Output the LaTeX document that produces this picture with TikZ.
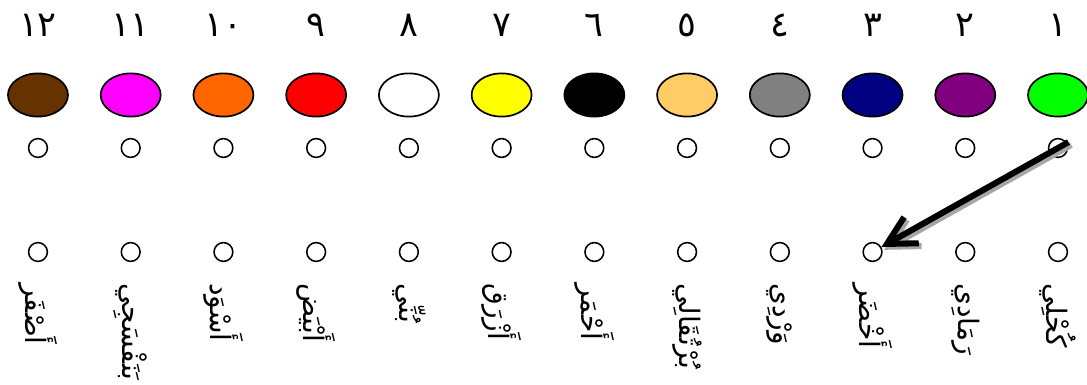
\documentclass[tikz,border=0pt]{standalone}
\usepackage{fontspec}
\usetikzlibrary{arrows.meta, shapes.geometric}
\TeXXeTstate=1
\newfontfamily\arabicfont[Script=Arabic]{DejaVu Sans}
\definecolor{colgreen}{HTML}{00FF00}
\definecolor{colpurple}{HTML}{800080}
\definecolor{colnavy}{HTML}{000080}
\definecolor{colgray}{HTML}{808080}
\definecolor{colpeach}{HTML}{FFCC66}
\definecolor{colblack}{HTML}{000000}
\definecolor{colyellow}{HTML}{FFFF00}
\definecolor{colwhite}{HTML}{FFFFFF}
\definecolor{colred}{HTML}{FF0000}
\definecolor{colorange}{HTML}{FF6600}
\definecolor{colmagenta}{HTML}{FF00FF}
\definecolor{colbrown}{HTML}{663300}

\begin{document}
\begin{tikzpicture}[x=0.025cm, y=-0.025cm,
  num/.style={font=\arabicfont\fontsize{25}{28}\selectfont, inner sep=0pt},
  blob/.style={draw, ellipse, line width=1.2pt, minimum width=1.5cm, minimum height=1.08cm, inner sep=0pt},
  dot/.style={draw, circle, line width=1.1pt, minimum size=0.47cm, inner sep=0pt},
  word/.style={font=\arabicfont\fontsize{20}{24}\selectfont, rotate=-90, anchor=west, inner sep=0pt},
  arr/.style={-{Straight Barb[length=7mm, width=7.5mm]}, line width=4.3pt}
]
\useasboundingbox (0,0) rectangle (1087,385);
% numbers, colours, the two rows of dots and the names
\foreach \i/\n/\c/\w in {1/١/colgreen/كُحْلِي, 2/٢/colpurple/رَمَادِي, 3/٣/colnavy/أَخْضَر,
    4/٤/colgray/وَرْدِي, 5/٥/colpeach/بُرْتُقَالِي, 6/٦/colblack/أَحْمَر,
    7/٧/colyellow/أَزْرَق, 8/٨/colwhite/بُنِّي, 9/٩/colred/أَبْيَض,
    10/١٠/colorange/أَسْوَد, 11/١١/colmagenta/بَنَفْسَجِي, 12/١٢/colbrown/أَصْفَر} {
  \node[num] (num\i) at ({1058-(\i-1)*92.73}, 25) {\n};
  \node[blob, fill=\c] (col\i) at ({1058-(\i-1)*92.73}, 95) {};
  \node[dot] (top\i) at ({1058-(\i-1)*92.73}, 148) {};
  \node[dot] (bot\i) at ({1058-(\i-1)*92.73}, 252) {};
  \node[word] (name\i) at ({1058-(\i-1)*92.73}, 283) {\beginR\w\endR};
}
% the answer arrow with its shadow
\draw[arr, black!35, transform canvas={shift={(2pt,-2pt)}}, shorten <=-0.3cm] (top1.center) -- (bot3);
\draw[arr, shorten <=-0.3cm] (top1.center) -- (bot3);
\end{tikzpicture}
\end{document}
